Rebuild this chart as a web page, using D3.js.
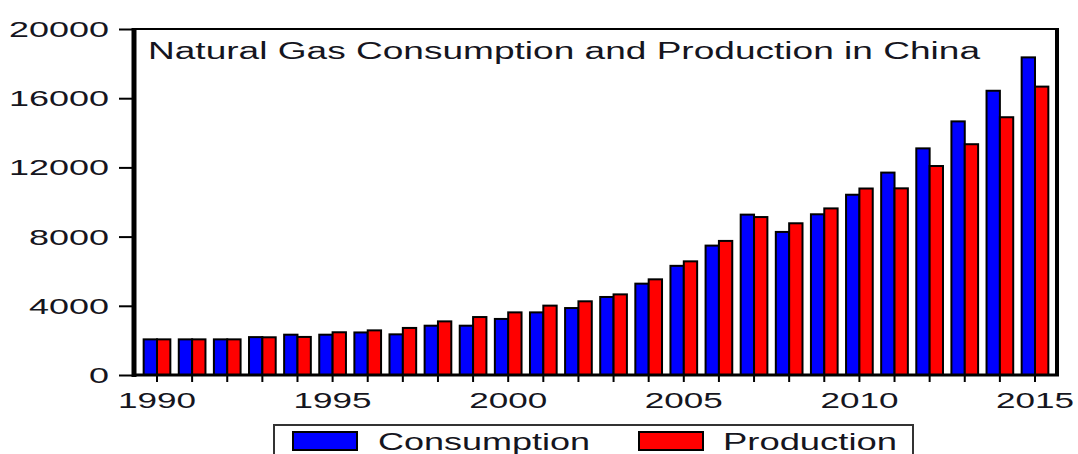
<!DOCTYPE html>
<html>
<head>
<meta charset="utf-8">
<script src="https://cdn.jsdelivr.net/npm/d3@7"></script>
<style>
  html, body { margin: 0; padding: 0; background: #fff; }
  svg { display: block; }
  text { font-family: "Liberation Sans", Arial, sans-serif; fill: #151520; }
</style>
</head>
<body>
<svg id="chart" width="1078" height="454"></svg>
<script>
const years = d3.range(1990, 2016);
const consumption = [2060, 2060, 2060, 2190, 2330, 2330, 2460, 2350, 2850, 2850, 3240, 3620, 3870, 4510, 5280, 6310, 7480, 9270, 8270, 9290, 10420, 11700, 13100, 14660, 16430, 18360];
const production  = [2060, 2060, 2060, 2180, 2200, 2470, 2580, 2720, 3100, 3350, 3620, 4010, 4260, 4660, 5530, 6570, 7750, 9130, 8770, 9630, 10780, 10790, 12080, 13340, 14900, 16670];
const seriesNames = ["Consumption", "Production"];
const seriesColors = ["#0000ff", "#ff0000"];
const yTicks = [0, 4000, 8000, 12000, 16000, 20000];
const xLabelYears = [1990, 1995, 2000, 2005, 2010, 2015];
const title = "Natural Gas Consumption and Production in China";

const svg = d3.select("#chart");
const frame = {left: 134, right: 1057, top: 29, bottom: 375};
const step = (1035 - 157) / 25;

const x = d3.scaleBand()
  .domain(years)
  .range([157 - step / 2, 1035 + step / 2])
  .paddingInner(0.24)
  .paddingOuter(0.12);
const xs = d3.scaleBand().domain(seriesNames).range([0, x.bandwidth()]);
const y = d3.scaleLinear().domain([0, 20000]).range([frame.bottom, frame.top]);

const data = years.map((yr, i) => ({year: yr, values: [consumption[i], production[i]]}));

// bars
const groups = svg.append("g").selectAll("g").data(data).join("g")
  .attr("transform", d => `translate(${x(d.year)},0)`);
groups.selectAll("rect")
  .data(d => d.values.map((v, j) => ({name: seriesNames[j], v, color: seriesColors[j]})))
  .join("rect")
  .attr("x", d => xs(d.name))
  .attr("width", xs.bandwidth())
  .attr("y", d => y(d.v))
  .attr("height", d => y(0) - y(d.v))
  .attr("fill", d => d.color)
  .attr("stroke", "#000")
  .attr("stroke-width", 2);

// frame
svg.append("line").attr("x1", frame.left).attr("x2", frame.right).attr("y1", frame.top).attr("y2", frame.top)
  .attr("stroke", "#000").attr("stroke-width", 2);
svg.append("line").attr("x1", frame.right).attr("x2", frame.right).attr("y1", frame.top - 1).attr("y2", frame.bottom + 1)
  .attr("stroke", "#000").attr("stroke-width", 4);

// y axis
const yAxis = svg.append("g").attr("transform", `translate(${frame.left},0)`)
  .call(d3.axisLeft(y).tickValues(yTicks).tickSize(15).tickPadding(10).tickFormat(d3.format("d")));
yAxis.select(".domain").attr("stroke-width", 5).attr("d", `M0,${frame.top - 1}V${frame.bottom + 2}`);
yAxis.selectAll(".tick line").attr("stroke-width", 2);
yAxis.selectAll(".tick text")
  .attr("font-size", 22)
  .attr("fill", "#151520")
  .attr("textLength", d => String(d).length * 20)
  .attr("lengthAdjust", "spacingAndGlyphs")
  .attr("dy", "0.34em");

// x axis
const xAxis = svg.append("g").attr("transform", `translate(0,${frame.bottom})`)
  .call(d3.axisBottom(x).tickSize(7).tickPadding(6)
    .tickFormat(d => xLabelYears.includes(d) ? String(d) : ""));
xAxis.select(".domain").attr("stroke-width", 3).attr("d", `M${frame.left - 2},0H${frame.right + 2}`);
xAxis.selectAll(".tick line").attr("stroke-width", 2);
xAxis.selectAll(".tick text")
  .attr("font-size", 22)
  .attr("fill", "#151520")
  .attr("textLength", d => xLabelYears.includes(d) ? 78 : 0)
  .attr("lengthAdjust", "spacingAndGlyphs")
  .attr("dy", "0.9em");

// title
svg.append("text").attr("x", 148).attr("y", 59)
  .attr("font-size", 23)
  .attr("textLength", 832).attr("lengthAdjust", "spacingAndGlyphs")
  .text(title);

// legend
const legend = svg.append("g");
legend.append("rect").attr("x", 274).attr("y", 425).attr("width", 639).attr("height", 50)
  .attr("fill", "none").attr("stroke", "#333").attr("stroke-width", 2);
const legendItems = [
  {name: seriesNames[0], color: seriesColors[0], sx: 293, tx: 378, tl: 212},
  {name: seriesNames[1], color: seriesColors[1], sx: 639, tx: 723, tl: 174}
];
legendItems.forEach(it => {
  legend.append("rect").attr("x", it.sx).attr("y", 432).attr("width", 64).attr("height", 18)
    .attr("fill", it.color).attr("stroke", "#000").attr("stroke-width", 2);
  legend.append("text").attr("x", it.tx).attr("y", 450)
    .attr("font-size", 24)
    .attr("textLength", it.tl).attr("lengthAdjust", "spacingAndGlyphs")
    .text(it.name);
});
</script>
</body>
</html>
